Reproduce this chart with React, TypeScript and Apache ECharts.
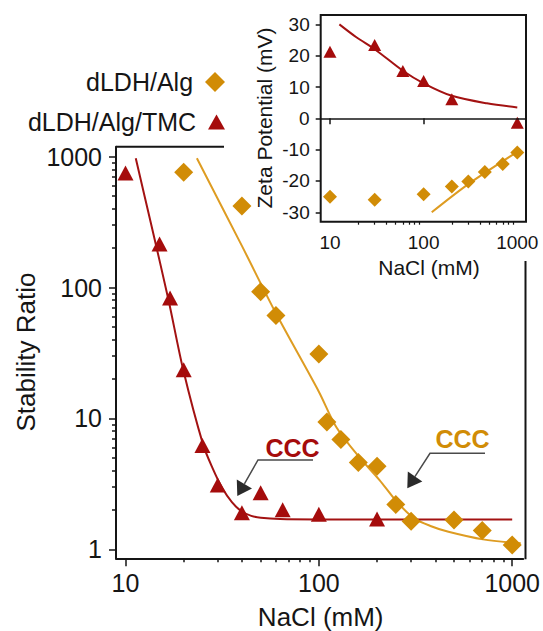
import { useEffect, useRef } from 'react';
import * as echarts from 'echarts';

// Stability ratio W versus NaCl concentration
const algNaCl = [20, 40, 50, 60, 100, 110, 130, 160, 200, 250, 300, 500, 700, 1000];
const algW = [760, 420, 93, 61, 31, 9.4, 6.9, 4.6, 4.3, 2.2, 1.64, 1.67, 1.39, 1.08];
const tmcNaCl = [10, 15, 17, 20, 25, 30, 40, 50, 65, 100, 200];
const tmcW = [750, 215, 83, 23.5, 6.2, 3.1, 1.9, 2.7, 2.0, 1.85, 1.7];

// Fitted stability curves
const algFitNaCl = [23.4, 40, 60, 100, 123, 161, 206, 253, 310, 381, 468, 706, 1107];
const algFitW = [971, 208, 63.5, 16, 8.6, 5.1, 3.38, 2.31, 1.73, 1.5, 1.36, 1.19, 1.11];
const tmcFitNaCl = [11.3, 13.6, 16.7, 19.9, 25.2, 28.2, 31.6, 35.5, 39.8, 44.7, 50.1, 63, 100, 1000];
const tmcFitW = [971, 300, 80, 23.4, 6.3, 4.17, 2.95, 2.29, 1.95, 1.8, 1.74, 1.7, 1.69, 1.69];

// Zeta potential (mV) versus NaCl concentration
const zetaAlgNaCl = [10, 30, 100, 200, 300, 450, 700, 1000];
const zetaAlg = [-25, -26, -24.2, -21.8, -20.2, -17.1, -14.6, -10.9];
const zetaTmcNaCl = [10, 30, 60, 100, 200, 1000];
const zetaTmc = [21.3, 23.4, 15.1, 11.9, 6.1, -1.4];
const zetaAlgFitNaCl = [122, 300, 1000];
const zetaAlgFit = [-30, -21, -10.7];
const zetaTmcFitNaCl = [12.6, 19.3, 30.3, 60, 100, 200, 474, 1000];
const zetaTmcFit = [30, 25.8, 22, 15.2, 11.2, 7.2, 4.8, 3.5];

// Tick positions
const logMajorX = [10, 100, 1000];
const logMinorX = [20, 30, 40, 50, 60, 70, 80, 90, 200, 300, 400, 500, 600, 700, 800, 900];
const logMajorY = [1, 10, 100, 1000];
const logMinorY = [2, 3, 4, 5, 6, 7, 8, 9, 20, 30, 40, 50, 60, 70, 80, 90, 200, 300, 400, 500, 600, 700, 800, 900];
const zetaTicks = [-30, -20, -10, 0, 10, 20, 30];

const ORANGE = '#D18C06';
const ORANGE_LINE = '#DE9C22';
const RED = '#A50C0C';
const RED_LINE = '#A31212';
const INK = '#151515';
const FONT = 'Liberation Sans, Arial, Helvetica, sans-serif';

const pairs = (xs: number[], ys: number[]) => xs.map((x, i) => [x, ys[i]]);
const intLabel = (v: number) => String(Math.round(v));

// Plot rectangles (px)
const MAIN = { left: 116, top: 146.7, width: 409.5, height: 411.6 };
const INSET = { left: 320.7, top: 15, width: 205.3, height: 206.7 };

export default function App() {
  const ref = useRef<HTMLDivElement>(null);

  useEffect(() => {
    if (!ref.current) return;
    const chart = echarts.init(ref.current, undefined, { renderer: 'svg' });

    const axisLine = { show: true, onZero: false, lineStyle: { color: INK, width: 2 } };
    const mainRight = MAIN.left + MAIN.width;
    const mainBottom = MAIN.top + MAIN.height;

    const option: any = {
      animation: false,
      textStyle: { fontFamily: FONT },
      grid: [
        { ...MAIN, show: false },
        { ...INSET, show: true, borderColor: INK, borderWidth: 2, backgroundColor: 'transparent' },
      ],
      legend: [
        {
          data: ['dLDH/Alg'],
          right: 318,
          top: 68,
          padding: 0,
          align: 'right',
          itemWidth: 20,
          itemHeight: 20,
          selectedMode: false,
          formatter: (n: string) => n + ' ',
          textStyle: { fontSize: 25, color: INK, lineHeight: 28, fontFamily: FONT },
        },
        {
          data: ['dLDH/Alg/TMC'],
          right: 318,
          top: 108,
          padding: 0,
          align: 'right',
          itemWidth: 17,
          itemHeight: 15,
          selectedMode: false,
          formatter: (n: string) => n + ' ',
          textStyle: { fontSize: 25, color: INK, lineHeight: 28, fontFamily: FONT },
        },
      ],
      xAxis: [
        {
          gridIndex: 0, type: 'log', position: 'bottom', min: 8.93, max: 1141,
          axisLine,
          axisTick: { show: true, customValues: logMajorX, length: 8, lineStyle: { color: INK, width: 1.5 } },
          axisLabel: { customValues: logMajorX, fontSize: 25, color: INK, margin: 12, formatter: intLabel },
          splitLine: { show: false },
        },
        {
          gridIndex: 0, type: 'log', position: 'bottom', min: 8.93, max: 1141,
          axisLine: { show: false },
          axisTick: { show: true, customValues: logMinorX, length: 4, lineStyle: { color: INK, width: 1.5 } },
          axisLabel: { show: false },
          splitLine: { show: false },
        },
        {
          gridIndex: 1, type: 'log', position: 'bottom', min: 7.96, max: 1239,
          axisLine: { show: false },
          axisTick: { show: true, customValues: logMajorX, length: 6, lineStyle: { color: INK, width: 1.5 } },
          axisLabel: { customValues: logMajorX, fontSize: 19, color: INK, margin: 11, formatter: intLabel },
          splitLine: { show: false },
        },
        {
          gridIndex: 1, type: 'log', position: 'bottom', min: 7.96, max: 1239,
          axisLine: { show: false },
          axisTick: { show: true, customValues: logMinorX, length: 3, lineStyle: { color: INK, width: 1.2 } },
          axisLabel: { show: false },
          splitLine: { show: false },
        },
      ],
      yAxis: [
        {
          gridIndex: 0, type: 'log', position: 'left', min: 0.853, max: 1191,
          axisLine,
          axisTick: { show: true, customValues: logMajorY, length: 7, lineStyle: { color: INK, width: 1.5 } },
          axisLabel: { customValues: logMajorY, fontSize: 25, color: INK, margin: 14, formatter: intLabel },
          splitLine: { show: false },
        },
        {
          gridIndex: 0, type: 'log', position: 'left', min: 0.853, max: 1191,
          axisLine: { show: false },
          axisTick: { show: true, customValues: logMinorY, length: 4, lineStyle: { color: INK, width: 1.5 } },
          axisLabel: { show: false },
          splitLine: { show: false },
        },
        {
          gridIndex: 1, type: 'value', position: 'left', min: -33, max: 33,
          axisLine: { show: false },
          axisTick: { show: true, customValues: zetaTicks, length: 5, lineStyle: { color: INK, width: 1.5 } },
          axisLabel: { customValues: zetaTicks, fontSize: 19, color: INK, margin: 11 },
          splitLine: { show: false },
        },
      ],
      series: [
        {
          name: 'dLDH/Alg fit', type: 'line', xAxisIndex: 0, yAxisIndex: 0,
          data: pairs(algFitNaCl, algFitW), smooth: 0.3,
          showSymbol: false, lineStyle: { color: ORANGE_LINE, width: 2 }, z: 2,
        },
        {
          name: 'dLDH/Alg/TMC fit', type: 'line', xAxisIndex: 0, yAxisIndex: 0,
          data: pairs(tmcFitNaCl, tmcFitW), smooth: 0.3,
          showSymbol: false, lineStyle: { color: RED_LINE, width: 2 }, z: 2,
        },
        {
          name: 'dLDH/Alg', type: 'scatter', xAxisIndex: 0, yAxisIndex: 0,
          data: pairs(algNaCl, algW), symbol: 'diamond', symbolSize: 19,
          itemStyle: { color: ORANGE, opacity: 1 }, z: 3,
        },
        {
          name: 'dLDH/Alg/TMC', type: 'scatter', xAxisIndex: 0, yAxisIndex: 0,
          data: pairs(tmcNaCl, tmcW), symbol: 'triangle', symbolSize: [16, 15],
          itemStyle: { color: RED, opacity: 1 }, z: 3,
        },
        {
          name: 'zeta Alg fit', type: 'line', xAxisIndex: 2, yAxisIndex: 2,
          data: pairs(zetaAlgFitNaCl, zetaAlgFit), smooth: 0.3,
          showSymbol: false, lineStyle: { color: ORANGE_LINE, width: 2 }, z: 2,
        },
        {
          name: 'zeta TMC fit', type: 'line', xAxisIndex: 2, yAxisIndex: 2,
          data: pairs(zetaTmcFitNaCl, zetaTmcFit), smooth: 0.3,
          showSymbol: false, lineStyle: { color: RED_LINE, width: 2 }, z: 2,
          markLine: {
            silent: true, symbol: 'none', label: { show: false },
            lineStyle: { color: INK, width: 1.5, type: 'solid' },
            data: [{ yAxis: 0 }],
          },
        },
        {
          name: 'dLDH/Alg', type: 'scatter', xAxisIndex: 2, yAxisIndex: 2,
          data: pairs(zetaAlgNaCl, zetaAlg), symbol: 'diamond', symbolSize: 14,
          itemStyle: { color: ORANGE, opacity: 1 }, z: 3,
        },
        {
          name: 'dLDH/Alg/TMC', type: 'scatter', xAxisIndex: 2, yAxisIndex: 2,
          data: pairs(zetaTmcNaCl, zetaTmc), symbol: 'triangle', symbolSize: [13, 12],
          itemStyle: { color: RED, opacity: 1 }, z: 3,
        },
      ],
      graphic: [
        // open frame of the main plot: top edge stops before the inset, right edge starts below it
        { type: 'line', shape: { x1: MAIN.left, y1: MAIN.top, x2: 224, y2: MAIN.top }, style: { stroke: INK, lineWidth: 2 } },
        { type: 'line', shape: { x1: mainRight, y1: 261, x2: mainRight, y2: mainBottom + 1 }, style: { stroke: INK, lineWidth: 2 } },
        // axis titles
        {
          type: 'text', x: 26, y: 352, rotation: Math.PI / 2,
          style: { text: 'Stability Ratio', fontSize: 26, fontFamily: FONT, fill: INK, align: 'center', verticalAlign: 'middle' },
        },
        {
          type: 'text', x: 320.7, y: 617,
          style: { text: 'NaCl (mM)', fontSize: 26, fontFamily: FONT, fill: INK, align: 'center', verticalAlign: 'middle' },
        },
        {
          type: 'text', x: 429, y: 267,
          style: { text: 'NaCl (mM)', fontSize: 21, fontFamily: FONT, fill: INK, align: 'center', verticalAlign: 'middle' },
        },
        {
          type: 'text', x: 264, y: 118, rotation: Math.PI / 2,
          style: { text: 'Zeta Potential (mV)', fontSize: 21, fontFamily: FONT, fill: INK, align: 'center', verticalAlign: 'middle' },
        },
        // CCC call-outs
        {
          type: 'text', x: 292.5, y: 447.5,
          style: { text: 'CCC', fontSize: 25, fontWeight: 'bold', fontFamily: FONT, fill: RED, align: 'center', verticalAlign: 'middle' },
        },
        { type: 'polyline', shape: { points: [[313, 460], [258, 460], [244.4, 483.9]] }, style: { stroke: '#4a4a4a', lineWidth: 1.5, fill: 'none' } },
        { type: 'polygon', shape: { points: [[237.3, 496], [252, 488.6], [236.8, 479.5]] }, style: { fill: '#2a2a2a' } },
        {
          type: 'text', x: 462.5, y: 439,
          style: { text: 'CCC', fontSize: 25, fontWeight: 'bold', fontFamily: FONT, fill: ORANGE, align: 'center', verticalAlign: 'middle' },
        },
        { type: 'polyline', shape: { points: [[485, 453.3], [430, 453.3], [414.9, 476.6]] }, style: { stroke: '#4a4a4a', lineWidth: 1.5, fill: 'none' } },
        { type: 'polygon', shape: { points: [[407.3, 488.3], [422.3, 481.4], [407.8, 471.5]] }, style: { fill: '#2a2a2a' } },
      ],
    };

    chart.setOption(option);
    return () => chart.dispose();
  }, []);

  return (
    <div
      ref={ref}
      style={{ position: 'fixed', left: 0, top: 0, width: 543, height: 631, background: '#fff' }}
    />
  );
}
